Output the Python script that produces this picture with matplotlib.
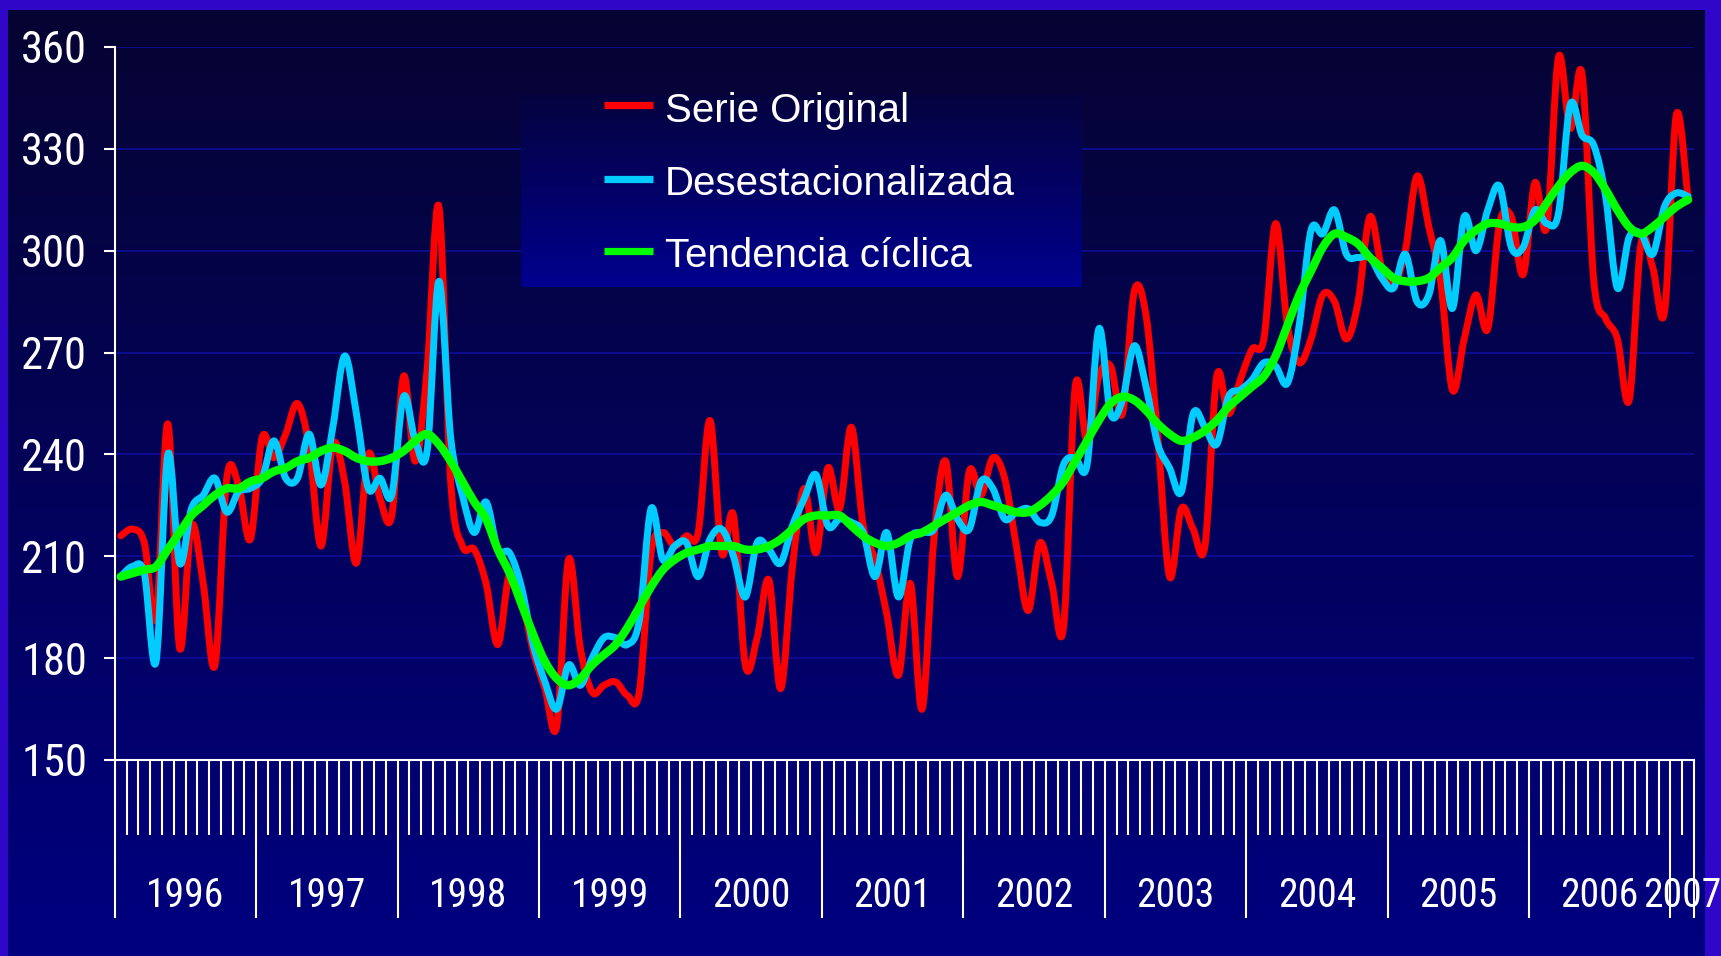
import numpy as np
import matplotlib

matplotlib.use("Agg")

import matplotlib.pyplot as plt
from matplotlib import font_manager
from matplotlib.patches import PathPatch
from matplotlib.path import Path
from matplotlib.transforms import blended_transform_factory

W, H = 1721, 956

years = ["1996", "1997", "1998", "1999", "2000", "2001", "2002",
         "2003", "2004", "2005", "2006", "2007"]
months_per_year = [12, 12, 12, 12, 12, 12, 12, 12, 12, 12, 12, 2]

# monthly values, Jan 1996 - Feb 2007
serie_original = [
    216, 218, 214, 192, 249, 183, 219, 202, 178, 233, 231, 215,
    245, 239, 246, 255, 242, 213, 243, 232, 208, 240, 227, 222,
    263, 238, 265, 313, 232, 213, 212, 202, 184, 205, 198, 182,
    171, 160, 209, 183, 170, 172, 173, 169, 170, 211, 217, 213,
    216, 217, 250, 211, 222, 178, 186, 203, 171, 207, 230, 211,
    236, 224, 248, 219, 209, 193, 175, 202, 165, 215, 238, 204,
    235, 228, 239, 233, 213, 194, 214, 202, 189, 260, 244, 263,
    266, 252, 288, 281, 245, 204, 224, 218, 213, 263, 252, 262,
    271, 274, 308, 278, 267, 274, 287, 285, 274, 285, 310, 295,
    290, 300, 322, 307, 291, 259, 274, 287, 277, 308, 310, 293,
    320, 307, 357, 336, 352, 291, 280, 274, 256, 302, 295, 282,
    340, 315,
]
desestacionalizada = [
    204, 207, 205, 179, 240, 208, 224, 228, 233, 223, 229, 230,
    233, 244, 233, 233, 246, 231, 248, 269, 252, 230, 233, 228,
    257, 244, 241, 291, 245, 228, 217, 226, 212, 211, 201, 184,
    173, 165, 178, 172, 180, 186, 186, 184, 191, 224, 209, 213,
    214, 204, 215, 218, 210, 198, 214, 212, 208, 219, 227, 234,
    219, 221, 220, 217, 204, 217, 198, 215, 217, 218, 228, 221,
    218, 232, 230, 221, 223, 224, 220, 222, 237, 239, 237, 277,
    252, 256, 272, 260, 243, 236, 229, 252, 248, 243, 257, 259,
    262, 267, 266, 261, 278, 306, 305, 312, 299, 298, 298, 292,
    289, 299, 285, 287, 303, 283, 310, 300, 312, 319, 301, 301,
    312, 308, 311, 343, 334, 331, 316, 289, 304, 305, 299, 313,
    317, 316,
]
tendencia_ciclica = [
    204, 205, 206, 207, 212, 217, 222, 225, 228, 230, 230, 232,
    233, 235, 236, 238, 239, 241, 242, 241, 239, 238, 238, 239,
    241, 244, 246, 243, 238, 232, 226, 221, 212, 205, 196, 187,
    179, 174, 172, 174, 178, 181, 184, 189, 195, 201, 206, 209,
    211, 212, 213, 213, 213, 212, 212, 213, 215, 218, 221, 222,
    222, 222, 219, 216, 214, 213, 214, 216, 217, 219, 221, 223,
    225, 226, 225, 224, 223, 223, 225, 228, 232, 238, 244, 250,
    255, 257, 256, 253, 249, 246, 244, 245, 247, 250, 254, 257,
    260, 263, 269, 278, 287, 294, 301, 305, 304, 302, 298, 295,
    292, 291, 291, 292, 295, 298, 303, 306, 308, 308, 307, 307,
    309, 314, 319, 323, 325, 323, 318, 312, 307, 305, 307, 310,
    313, 315,
]
y_ticks = [150, 180, 210, 240, 270, 300, 330, 360]
legend_labels = ["Serie Original", "Desestacionalizada", "Tendencia cíclica"]

RED = "#ff0000"
CYAN = "#00ccff"
GREEN = "#00ff00"

installed = {f.name for f in font_manager.fontManager.ttflist}
narrow_candidates = ["Liberation Sans Narrow", "Arial Narrow", "Roboto Condensed",
                     "Archivo Narrow", "PT Sans Narrow", "Sofia Sans Condensed",
                     "Liberation Sans"]
narrow = next(name for name in narrow_candidates if name in installed or name == "Liberation Sans")
plt.rcParams["font.family"] = [narrow, "DejaVu Sans"]


def px_rect(x0, y0, x1, y1):
    return [x0 / W, 1 - y1 / H, (x1 - x0) / W, (y1 - y0) / H]


def vertical_gradient(top_rgb, bottom_rgb, steps=256):
    t = np.linspace(0, 1, steps)[:, None]
    top = np.array(top_rgb) / 255
    bottom = np.array(bottom_rgb) / 255
    return (top + (bottom - top) * t)[:, None, :]


def smooth_path(xs, ys):
    # Excel-style smoothed line: cubic Bezier segments through every point
    pts = np.column_stack([xs, ys]).astype(float)
    padded = np.vstack([pts[0], pts, pts[-1]])
    verts = [pts[0]]
    codes = [Path.MOVETO]
    for i in range(len(pts) - 1):
        p_prev, p0, p1, p_next = padded[i], padded[i + 1], padded[i + 2], padded[i + 3]
        verts += [p0 + (p1 - p_prev) / 6, p1 - (p_next - p0) / 6, p1]
        codes += [Path.CURVE4] * 3
    return Path(verts, codes)


fig = plt.figure(figsize=(W / 100, H / 100), dpi=100, facecolor="#3007c8")

bg = fig.add_axes(px_rect(8, 10, 1705, H))
bg.imshow(vertical_gradient((6, 4, 50), (0, 0, 128)), aspect="auto", extent=[0, 1, 0, 1])
bg.axis("off")

ax = fig.add_axes(px_rect(114.8, 47, 1694, 760))
ax.patch.set_alpha(0)

n = len(serie_original)
x = np.arange(n) + 0.5
for values, color, lw, z in [(serie_original, RED, 5.0, 3),
                             (desestacionalizada, CYAN, 5.0, 4),
                             (tendencia_ciclica, GREEN, 6.0, 5)]:
    ax.add_patch(PathPatch(smooth_path(x, values), fill=False, edgecolor=color, lw=lw,
                           joinstyle="round", capstyle="round", zorder=z))

ax.set_xlim(0, n)
ax.set_ylim(150, 360)
ax.set_axisbelow(True)
ax.grid(axis="y", color="#0f0fa0", lw=1.1)

for side in ("top", "right"):
    ax.spines[side].set_visible(False)
for side in ("left", "bottom"):
    ax.spines[side].set_color("white")
    ax.spines[side].set_linewidth(1.5)

ax.set_yticks(y_ticks)
ax.tick_params(axis="y", length=8, width=1.5, color="white", labelcolor="white",
               labelsize=32, pad=12)

boundaries = np.concatenate([[0], np.cumsum(months_per_year)])
ax.set_xticks(boundaries)
ax.set_xticks(np.arange(n + 1), minor=True)
ax.tick_params(axis="x", which="major", length=114, width=1.5, color="white",
               labelbottom=False)
ax.tick_params(axis="x", which="minor", length=54, width=1.5, color="white")

year_trans = blended_transform_factory(ax.transData, ax.transAxes)
for label, start, count in zip(years, boundaries[:-1], months_per_year):
    ax.text(start + count / 2, -0.2062, label, transform=year_trans, ha="center",
            va="baseline", fontsize=28.5, color="white", clip_on=False)

# legend box drawn in figure pixel space
leg = fig.add_axes([0, 0, 1, 1])
leg.axis("off")
leg.patch.set_alpha(0)
leg.imshow(vertical_gradient((5, 3, 62), (0, 0, 142)), aspect="auto",
           extent=[521, 1082, 287, 95], zorder=1)
for label, color, y_line, y_base in zip(legend_labels, [RED, CYAN, GREEN],
                                        [105, 179, 251], [122, 195, 267]):
    leg.plot([604, 653], [y_line, y_line], color=color, lw=5.2, solid_capstyle="butt", zorder=2)
    leg.text(665, y_base, label, ha="left", va="baseline", fontsize=29, color="white",
             family=["Liberation Sans", "DejaVu Sans"], zorder=3)
leg.set_xlim(0, W)
leg.set_ylim(H, 0)

fig.savefig("out.png", dpi=100, facecolor=fig.get_facecolor())
